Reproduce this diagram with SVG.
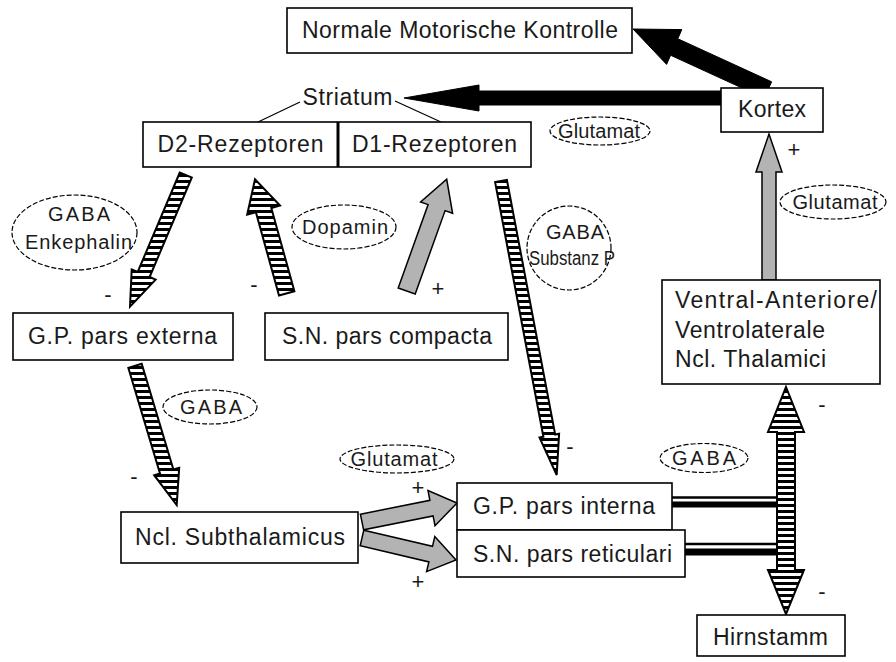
<svg xmlns="http://www.w3.org/2000/svg" width="896" height="662" viewBox="0 0 896 662">
  <style>
    .box { fill: #fff; stroke: #000; stroke-width: 1.6; }
    .lbl { font-family: "Liberation Sans", Arial, sans-serif; font-size: 23px; fill: #1a1a1a; }
    .sm { font-family: "Liberation Sans", Arial, sans-serif; font-size: 20px; fill: #1a1a1a; text-anchor: middle; }
    .sign { font-family: "Liberation Sans", Arial, sans-serif; font-size: 22px; fill: #1a1a1a; text-anchor: middle; }
    .ell { fill: #fff; stroke: #000; stroke-width: 1.2; stroke-dasharray: 5 2; }
    .solid { fill: #000; stroke: #000; stroke-width: 1; }
    .grey { fill: #b3b3b3; stroke: #000; stroke-width: 1.5; stroke-linejoin: miter; }
    .striped { fill: url(#stripes); stroke: #000; stroke-width: 2; }
    .thin { stroke: #000; stroke-width: 1.2; fill: none; }
  </style>
  <defs>
    <pattern id="stripes" patternUnits="userSpaceOnUse" width="8" height="6">
      <rect width="8" height="6" fill="#fff"/>
      <rect width="8" height="3" fill="#000"/>
    </pattern>
  </defs>

  <rect width="896" height="662" fill="#fff"/>

  <!-- connectors -->
  <g id="connectors">
    <!-- Striatum brackets -->
    <line class="thin" x1="300" y1="102" x2="258" y2="122"/>
    <line class="thin" x1="395" y1="101" x2="441" y2="122"/>
    <!-- Kortex -> Normale Motorische Kontrolle -->
    <polygon class="solid" points="764.4,98.25 670.6,55.25 666.6,64.4 633,29 681.8,29.6 677.8,38.75 771.6,81.75"/>
    <!-- Kortex -> Striatum -->
    <polygon class="solid" points="723,91 479,91 479,85 404,98 479,111 479,105 723,105"/>
    <!-- Thalamus -> Kortex -->
    <polygon class="grey" points="762,280 762,172 756,172 769,134 782,172 776,172 776,280"/>
    <!-- S.N. pars compacta -> D1 -->
    <polygon class="grey" points="398.2,288.0 428.1,204.6 420.6,201.9 446.7,179.3 452.6,213.3 445.1,210.6 415.2,294.0"/>
    <!-- S.N. pars compacta -> D2 -->
    <polygon class="striped" points="279.0,295.4 255.9,212.2 247.2,214.7 255,179.3 280.0,205.5 271.3,208.0 294.4,291.2"/>
    <!-- D2 -> G.P. pars externa -->
    <polygon class="striped" points="179.8,172.5 137.7,272.0 131.7,269.4 130,306.7 155.6,279.6 149.6,277.0 191.8,177.5"/>
    <!-- G.P. pars externa -> Ncl. Subthalamicus -->
    <polygon class="striped" points="128.3,367.8 160.0,473.5 154.2,475.2 176.7,505 179.2,467.8 173.4,469.5 141.7,363.8"/>
    <!-- D1 -> G.P. pars interna -->
    <polygon class="striped" stroke-width="2.5" points="495.1,182.1 543.4,436.8 539.5,437.6 556.7,475 559.1,433.8 555.2,434.6 506.9,179.9"/>
    <!-- Ncl. Subthalamicus -> G.P. pars interna / S.N. pars reticulari -->
    <polygon class="grey" points="360.4,514.2 429.9,500.3 428.0,490.5 457,503 435.0,525.7 433.1,515.9 363.6,529.8"/>
    <polygon class="grey" points="363.8,530.2 432.5,546.3 434.8,536.6 456,560 426.6,571.6 428.9,561.9 360.2,545.8"/>
    <!-- output bars into the thalamus / brainstem pathway -->
    <line x1="672" y1="497.5" x2="780" y2="497.5" stroke="#000" stroke-width="2.5"/>
    <line x1="672" y1="504.5" x2="780" y2="504.5" stroke="#000" stroke-width="6"/>
    <line x1="685" y1="544" x2="780" y2="544" stroke="#000" stroke-width="2.5"/>
    <line x1="685" y1="552" x2="780" y2="552" stroke="#000" stroke-width="7"/>
    <!-- double-headed pathway: Thalamus <-> Hirnstamm -->
    <polygon class="striped" points="786,387 804,432 795,432 795,570 804,570 786,614 768,570 777,570 777,432 768,432"/>
  </g>

  <!-- nodes -->
  <g id="normale">
    <rect class="box" x="287" y="8" width="345" height="45"/>
    <text class="lbl" x="460" y="38" text-anchor="middle" textLength="316" lengthAdjust="spacing">Normale Motorische Kontrolle</text>
  </g>
  <g id="kortex">
    <rect class="box" x="721" y="88" width="102" height="44"/>
    <text class="lbl" x="772" y="117" text-anchor="middle" textLength="68" lengthAdjust="spacing">Kortex</text>
  </g>
  <g id="striatum">
    <text class="lbl" x="347.5" y="105" text-anchor="middle" textLength="90" lengthAdjust="spacing">Striatum</text>
  </g>
  <g id="rezeptoren">
    <rect class="box" x="143" y="122" width="388" height="45"/>
    <line x1="338" y1="122" x2="338" y2="167" stroke="#000" stroke-width="3"/>
    <text class="lbl" x="240.5" y="152" text-anchor="middle" textLength="166" lengthAdjust="spacing">D2-Rezeptoren</text>
    <text class="lbl" x="434.5" y="152" text-anchor="middle" textLength="165" lengthAdjust="spacing">D1-Rezeptoren</text>
  </g>
  <g id="gp-externa">
    <rect class="box" x="13" y="313" width="220" height="47"/>
    <text class="lbl" x="122.5" y="344" text-anchor="middle" textLength="189" lengthAdjust="spacing">G.P. pars externa</text>
  </g>
  <g id="sn-compacta">
    <rect class="box" x="265" y="313" width="243" height="47"/>
    <text class="lbl" x="387" y="344" text-anchor="middle" textLength="210" lengthAdjust="spacing">S.N. pars compacta</text>
  </g>
  <g id="thalamus">
    <rect class="box" x="662" y="280" width="218" height="104"/>
    <text class="lbl" x="675" y="308" textLength="202" lengthAdjust="spacing">Ventral-Anteriore/</text>
    <text class="lbl" x="675" y="338" textLength="150" lengthAdjust="spacing">Ventrolaterale</text>
    <text class="lbl" x="675" y="367" textLength="151" lengthAdjust="spacing">Ncl. Thalamici</text>
  </g>
  <g id="subthalamicus">
    <rect class="box" x="121" y="512" width="237" height="51"/>
    <text class="lbl" x="240" y="545" text-anchor="middle" textLength="210" lengthAdjust="spacing">Ncl. Subthalamicus</text>
  </g>
  <g id="gp-interna">
    <rect class="box" x="457" y="483" width="215" height="47"/>
    <text class="lbl" x="564" y="514" text-anchor="middle" textLength="182" lengthAdjust="spacing">G.P. pars interna</text>
  </g>
  <g id="sn-reticulari">
    <rect class="box" x="457" y="530" width="228" height="47"/>
    <text class="lbl" x="572.5" y="562" text-anchor="middle" textLength="199" lengthAdjust="spacing">S.N. pars reticulari</text>
  </g>
  <g id="hirnstamm">
    <rect class="box" x="697" y="615" width="148" height="41"/>
    <text class="lbl" x="770.5" y="645" text-anchor="middle" textLength="115" lengthAdjust="spacing">Hirnstamm</text>
  </g>

  <!-- transmitter labels -->
  <g id="tx-gaba-enk">
    <ellipse class="ell" cx="74.5" cy="232.5" rx="62.5" ry="37.5"/>
    <text class="sm" x="79" y="221" textLength="62" lengthAdjust="spacing">GABA</text>
    <text class="sm" x="78.5" y="249" textLength="107" lengthAdjust="spacing">Enkephalin</text>
  </g>
  <g id="tx-dopamin">
    <ellipse class="ell" cx="344" cy="227" rx="52" ry="22"/>
    <text class="sm" x="345" y="234" textLength="86" lengthAdjust="spacing">Dopamin</text>
  </g>
  <g id="tx-glu-top">
    <ellipse class="ell" cx="600" cy="131" rx="50" ry="14"/>
    <text class="sm" x="599" y="138" textLength="82" lengthAdjust="spacing">Glutamat</text>
  </g>
  <g id="tx-gaba-subp">
    <ellipse class="ell" cx="569" cy="248" rx="42" ry="42"/>
    <text class="sm" x="575" y="239" textLength="58" lengthAdjust="spacing">GABA</text>
    <text class="sm" x="572" y="265" font-size="19" textLength="86" lengthAdjust="spacingAndGlyphs">Substanz P</text>
  </g>
  <g id="tx-glu-right">
    <ellipse class="ell" cx="833" cy="202" rx="53" ry="17"/>
    <text class="sm" x="835" y="209" textLength="85" lengthAdjust="spacing">Glutamat</text>
  </g>
  <g id="tx-gaba-mid">
    <ellipse class="ell" cx="210" cy="407" rx="47" ry="17"/>
    <text class="sm" x="211" y="414" textLength="62" lengthAdjust="spacing">GABA</text>
  </g>
  <g id="tx-glu-bottom">
    <ellipse class="ell" cx="397" cy="459" rx="57" ry="14"/>
    <text class="sm" x="394" y="466" textLength="87" lengthAdjust="spacing">Glutamat</text>
  </g>
  <g id="tx-gaba-right">
    <ellipse class="ell" cx="704" cy="458" rx="44" ry="14.5"/>
    <text class="sm" x="704" y="465" textLength="64" lengthAdjust="spacing">GABA</text>
  </g>

  <!-- signs -->
  <g id="signs">
    <text class="sign" x="794" y="157">+</text>
    <text class="sign" x="108" y="302">-</text>
    <text class="sign" x="254" y="292">-</text>
    <text class="sign" x="438" y="296">+</text>
    <text class="sign" x="570" y="454">-</text>
    <text class="sign" x="134" y="484">-</text>
    <text class="sign" x="418" y="495">+</text>
    <text class="sign" x="418" y="589">+</text>
    <text class="sign" x="822" y="412">-</text>
    <text class="sign" x="822" y="599">-</text>
  </g>
</svg>
